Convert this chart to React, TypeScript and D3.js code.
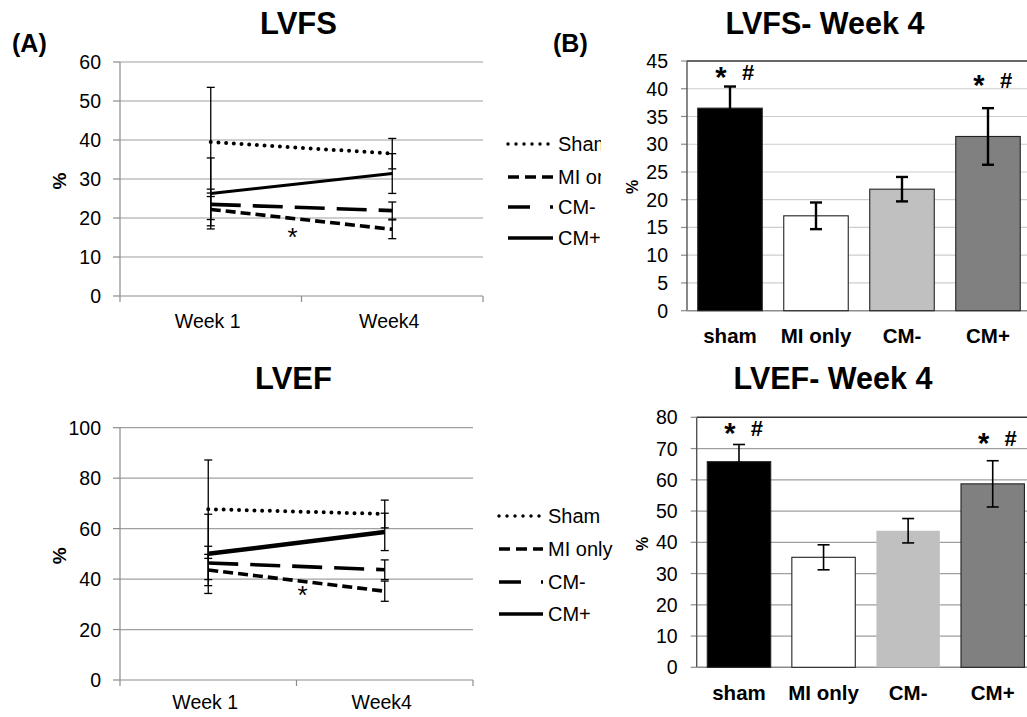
import React from 'react';
import * as d3 from 'd3';

const W = 1027;
const H = 717;
const FONT = '"Liberation Sans", Arial, Helvetica, sans-serif';

const weeks = ['Week 1', 'Week4'];
const groups = ['Sham', 'MI only', 'CM-', 'CM+'];
const barLabels = ['sham', 'MI only', 'CM-', 'CM+'];

// [week 1, week 4] for each group, in the order of `groups`
const lvfsMeans = [[39.5, 36.5], [22.2, 17.1], [23.5, 21.9], [26.3, 31.4]];
const lvfsErrors = [[14.0, 3.9], [4.2, 2.4], [3.9, 2.2], [9.1, 5.1]];
const lvefMeans = [[67.7, 65.8], [43.6, 35.2], [46.4, 43.7], [50.0, 58.7]];
const lvefErrors = [[19.5, 5.5], [6.2, 4.0], [6.6, 3.9], [15.7, 7.4]];

const lvfsTicks = [0, 10, 20, 30, 40, 50, 60];
const lvefTicks = [0, 20, 40, 60, 80, 100];
const lvfsBarTicks = [0, 5, 10, 15, 20, 25, 30, 35, 40, 45];
const lvefBarTicks = [0, 10, 20, 30, 40, 50, 60, 70, 80];

// significance marks ("*  #") over sham and CM+, level in axis units
const lvfsMarks = [{ group: 0, level: 43.0 }, { group: 3, level: 41.6 }];
const lvefMarks = [{ group: 0, level: 76.6 }, { group: 3, level: 73.4 }];

const barFills = ['#000000', '#ffffff', '#c0c0c0', '#808080'];

const lineStyles = [
  { dash: '0 7.7', width: 4, cap: 'round', legendDash: '0 8' },
  { dash: '10 5', width: 3.6, cap: 'butt', legendDash: '11 6' },
  { dash: '30 12', width: 3.6, cap: 'butt', legendDash: '22 20' },
  { dash: undefined, width: 3, cap: 'butt', legendDash: undefined },
];

function LineChart(props) {
  const { title, titleY, left, right, top, bottom, ticks, means, errors,
    solidWidth, labelY, legendX, legendTextX, legendY, starDx, starDy } = props;
  const x = d3.scaleBand().domain(weeks).range([left, right]);
  const y = d3.scaleLinear().domain([0, ticks[ticks.length - 1]]).range([bottom, top]);
  const cx = (w) => x(w) + x.bandwidth() / 2;
  const line = d3.line().x((d, i) => cx(weeks[i])).y((d) => y(d));
  const miMid = (means[1][0] + means[1][1]) / 2;

  return (
    <g fontFamily={FONT}>
      <text x={(left + right) / 2 - 3} y={titleY} textAnchor="middle" fontWeight="bold" fontSize={31}>{title}</text>
      {ticks.map((t) => (
        <g key={t}>
          {t > 0 && <line x1={left} x2={right} y1={y(t)} y2={y(t)} stroke="#a0a0a0" strokeWidth={1.2} />}
          <line x1={left - 7} x2={left} y1={y(t)} y2={y(t)} stroke="#8c8c8c" strokeWidth={1.2} />
          <text x={left - 19} y={y(t)} dy="0.36em" textAnchor="end" fontSize={19.5}>{t}</text>
        </g>
      ))}
      <line x1={left} x2={left} y1={top} y2={bottom} stroke="#8c8c8c" strokeWidth={1.2} />
      <line x1={left} x2={right} y1={bottom} y2={bottom} stroke="#8c8c8c" strokeWidth={1.2} />
      {[left, left + x.step(), right].map((v, i) => (
        <line key={i} x1={v} x2={v} y1={bottom} y2={bottom + 6} stroke="#8c8c8c" strokeWidth={1.2} />
      ))}
      {weeks.map((w) => (
        <text key={w} x={cx(w) - 3} y={labelY} textAnchor="middle" fontSize={19.5}>{w}</text>
      ))}
      <text transform={`translate(${left - 61},${(top + bottom) / 2 + 2}) rotate(-90)`} textAnchor="middle" dy="0.35em" fontWeight="bold" fontSize={19}>%</text>

      {means.map((m, g) => (
        <g key={'e' + g}>
          {m.map((v, i) => {
            const xx = cx(weeks[i]);
            const e = errors[g][i];
            return (
              <g key={i} stroke="#000" strokeWidth={1.3}>
                <line x1={xx} x2={xx} y1={y(v + e)} y2={y(v - e)} />
                <line x1={xx - 4} x2={xx + 4} y1={y(v + e)} y2={y(v + e)} />
                <line x1={xx - 4} x2={xx + 4} y1={y(v - e)} y2={y(v - e)} />
              </g>
            );
          })}
        </g>
      ))}
      {means.map((m, g) => {
        const s = lineStyles[g];
        return (
          <path key={'l' + g} d={line(m)} fill="none" stroke="#000"
            strokeWidth={g === 3 ? solidWidth : s.width}
            strokeDasharray={s.dash} strokeLinecap={s.cap} />
        );
      })}
      <text x={(cx(weeks[0]) + cx(weeks[1])) / 2 + starDx} y={y(miMid) + starDy} textAnchor="middle" fontSize={26}>*</text>

      {groups.map((gname, g) => {
        const s = lineStyles[g];
        return (
          <g key={'lg' + g}>
            <line x1={legendX} x2={legendTextX - 5} y1={legendY[g]} y2={legendY[g]} stroke="#000"
              strokeWidth={g === 0 ? 3.5 : 3.4} strokeDasharray={s.legendDash} strokeLinecap={s.cap} />
            <text x={legendTextX} y={legendY[g]} dy="0.36em" fontSize={20}>{gname}</text>
          </g>
        );
      })}
    </g>
  );
}

function BarChart(props) {
  const { title, titleX, titleY, left, right, top, bottom, ticks, means, errors,
    marks, gridColor, errWidth, labelY, pctX, pctY, outlineCmMinus } = props;
  const x = d3.scaleBand().domain(barLabels).range([left, right]).paddingInner(0.25).paddingOuter(0.125);
  const y = d3.scaleLinear().domain([0, ticks[ticks.length - 1]]).range([bottom, top]);
  const values = means.map((m) => m[1]);
  const errs = errors.map((e) => e[1]);
  const cx = (c) => x(c) + x.bandwidth() / 2;

  return (
    <g fontFamily={FONT}>
      <text x={titleX} y={titleY} textAnchor="middle" fontWeight="bold" fontSize={30.5}>{title}</text>
      {ticks.map((t) => (
        <g key={t}>
          {t > 0 && t < ticks[ticks.length - 1] && (
            <line x1={left} x2={right} y1={y(t)} y2={y(t)} stroke={gridColor} strokeWidth={1.2} />
          )}
          <line x1={left - 6} x2={left} y1={y(t)} y2={y(t)} stroke="#8c8c8c" strokeWidth={1.2} />
          <text x={left - 19} y={y(t)} dy="0.36em" textAnchor="end" fontSize={19.5}>{t}</text>
        </g>
      ))}
      <line x1={left} x2={right} y1={top} y2={top} stroke="#333" strokeWidth={1.4} />
      <line x1={left} x2={left} y1={top} y2={bottom} stroke="#555" strokeWidth={1.4} />
      <line x1={left} x2={right} y1={bottom} y2={bottom} stroke="#8c8c8c" strokeWidth={1.4} />
      <text transform={`translate(${pctX},${pctY}) rotate(-90)`} textAnchor="middle" dy="0.35em" fontWeight="bold" fontSize={16}>%</text>

      {barLabels.map((c, i) => (
        <rect key={c} x={x(c)} y={y(values[i])} width={x.bandwidth()} height={bottom - y(values[i])}
          fill={barFills[i]} stroke={i === 2 && !outlineCmMinus ? 'none' : '#222'} strokeWidth={1.1} />
      ))}
      {barLabels.map((c, i) => {
        const xx = cx(c);
        return (
          <g key={'e' + c} stroke="#000" strokeWidth={errWidth}>
            <line x1={xx} x2={xx} y1={y(values[i] + errs[i])} y2={y(values[i] - errs[i])} />
            <line x1={xx - 6} x2={xx + 6} y1={y(values[i] + errs[i])} y2={y(values[i] + errs[i])} />
            <line x1={xx - 6} x2={xx + 6} y1={y(values[i] - errs[i])} y2={y(values[i] - errs[i])} />
          </g>
        );
      })}
      {marks.map((mk) => {
        const xx = cx(barLabels[mk.group]);
        return (
          <g key={'m' + mk.group} fontWeight="bold">
            <text x={xx - 9} y={y(mk.level) + 15} textAnchor="middle" fontSize={29}>*</text>
            <text x={xx + 18} y={y(mk.level) + 8} textAnchor="middle" fontSize={22}>#</text>
          </g>
        );
      })}
      {barLabels.map((c) => (
        <text key={'t' + c} x={cx(c)} y={labelY} textAnchor="middle" fontWeight="bold" fontSize={20.5}>{c}</text>
      ))}
    </g>
  );
}

export default function App() {
  return (
    <svg width={W} height={H} viewBox={`0 0 ${W} ${H}`}
      style={{ position: 'absolute', left: 0, top: 0, background: '#fff' }}>
      <rect width={W} height={H} fill="#fff" />
      <text x={12} y={52} fontFamily={FONT} fontWeight="bold" fontSize={25}>(A)</text>
      <LineChart title="LVFS" titleY={34} left={120} right={483} top={62} bottom={296}
        ticks={lvfsTicks} means={lvfsMeans} errors={lvfsErrors} solidWidth={3}
        labelY={328} legendX={508} legendTextX={558} legendY={[144, 177, 207, 238]}
        starDx={-9} starDy={27} />
      <LineChart title="LVEF" titleY={389} left={120} right={473} top={427.7} bottom={680}
        ticks={lvefTicks} means={lvefMeans} errors={lvefErrors} solidWidth={4.5}
        labelY={709} legendX={499} legendTextX={548} legendY={[516, 549, 582, 614]}
        starDx={6} starDy={23} />

      <rect x={601} y={0} width={W - 601} height={355} fill="#fff" />
      <text x={553} y={52} fontFamily={FONT} fontWeight="bold" fontSize={25}>(B)</text>
      <BarChart title="LVFS- Week 4" titleX={825} titleY={34} left={687} right={1031} top={61} bottom={310.7}
        ticks={lvfsBarTicks} means={lvfsMeans} errors={lvfsErrors} marks={lvfsMarks}
        gridColor="#cdcdcd" errWidth={2.4} labelY={343} pctX={632} pctY={187} outlineCmMinus={true} />
      <BarChart title="LVEF- Week 4" titleX={833} titleY={389} left={696.7} right={1035} top={417.3} bottom={667.3}
        ticks={lvefBarTicks} means={lvefMeans} errors={lvefErrors} marks={lvefMarks}
        gridColor="#9e9e9e" errWidth={1.6} labelY={700} pctX={642} pctY={544} outlineCmMinus={false} />
    </svg>
  );
}
